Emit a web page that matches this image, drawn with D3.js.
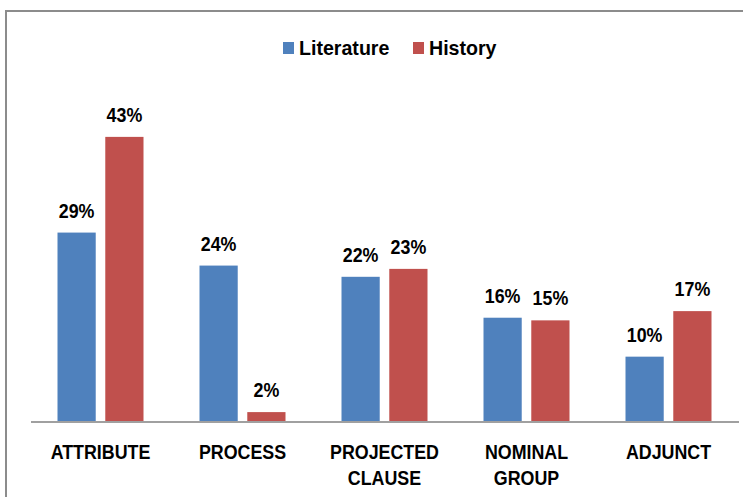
<!DOCTYPE html>
<html>
<head>
<script src="https://d3js.org/d3.v7.min.js"></script>
<style>
  body { margin: 0; background: #fff; }
  text { font-family: "Liberation Sans", Arial, sans-serif; font-weight: bold; fill: #000; }
</style>
</head>
<body>
<div id="chartDiv"></div>
<script>
// chart data
var categories = ["ATTRIBUTE", "PROCESS", "PROJECTED CLAUSE", "NOMINAL GROUP", "ADJUNCT"];
var categoryLines = [["ATTRIBUTE"], ["PROCESS"], ["PROJECTED", "CLAUSE"], ["NOMINAL", "GROUP"], ["ADJUNCT"]];
var series = ["Literature", "History"];
var literatureVals = [28.7, 23.7, 22.0, 15.8, 9.9];
var historyVals = [43.2, 1.5, 23.2, 15.4, 16.8];
var colors = ["#4f81bd", "#c0504d"];

var W = 743, H = 497;
var baseY = 422;
var squeeze = 0.85; // narrow the bold text, the original used a condensed face

var svg = d3.select("#chartDiv").append("svg")
  .attr("width", W)
  .attr("height", H);

// outer frame (runs off right and bottom edge)
svg.append("rect")
  .attr("x", 6).attr("y", 11)
  .attr("width", 800).attr("height", 600)
  .attr("fill", "none")
  .attr("stroke", "#8c8c8c")
  .attr("stroke-width", 2);

var x0 = d3.scaleBand()
  .domain(categories)
  .range([29.5, 739.5]);

var groupW = 86;
var x1 = d3.scaleBand()
  .domain(series)
  .range([0, groupW])
  .paddingInner(0.2);

var y = d3.scaleLinear()
  .domain([0, 50])
  .range([baseY, baseY - 330]);

var data = categories.map(function(c, i) {
  return { cat: c, vals: [literatureVals[i], historyVals[i]] };
});

var groups = svg.selectAll(".grp")
  .data(data)
  .enter().append("g")
  .attr("class", "grp")
  .attr("transform", function(d) {
    return "translate(" + (x0(d.cat) + (x0.bandwidth() - groupW) / 2) + ",0)";
  });

groups.selectAll("rect")
  .data(function(d) { return d.vals.map(function(v, j) { return { s: series[j], v: v, j: j }; }); })
  .enter().append("rect")
  .attr("x", function(d) { return x1(d.s); })
  .attr("y", function(d) { return y(d.v); })
  .attr("width", x1.bandwidth())
  .attr("height", function(d) { return baseY - y(d.v); })
  .attr("fill", function(d) { return colors[d.j]; });

// value labels
groups.selectAll(".val")
  .data(function(d) { return d.vals.map(function(v, j) { return { s: series[j], v: v }; }); })
  .enter().append("text")
  .attr("class", "val")
  .attr("transform", function(d) {
    return "translate(" + (x1(d.s) + x1.bandwidth() / 2) + "," + (y(d.v) - 15) + ") scale(" + squeeze + ",1)";
  })
  .attr("text-anchor", "middle")
  .style("font-size", "21px")
  .text(function(d) { return Math.round(d.v) + "%"; });

// baseline
svg.append("line")
  .attr("x1", 31).attr("x2", 739)
  .attr("y1", baseY).attr("y2", baseY)
  .attr("stroke", "#a0a0a0")
  .attr("stroke-width", 2);

// category labels
categories.forEach(function(c, i) {
  var t = svg.append("text")
    .attr("transform", "translate(" + (x0(c) + x0.bandwidth() / 2) + ",459) scale(" + squeeze + ",1)")
    .attr("text-anchor", "middle")
    .style("font-size", "21px");
  categoryLines[i].forEach(function(line, k) {
    t.append("tspan")
      .attr("x", 0)
      .attr("dy", k === 0 ? 0 : 26)
      .text(line);
  });
});

// legend
var legendX = [283, 413];
series.forEach(function(s, i) {
  svg.append("rect")
    .attr("x", legendX[i]).attr("y", 42)
    .attr("width", 11).attr("height", 12)
    .attr("fill", colors[i]);
  svg.append("text")
    .attr("transform", "translate(" + (legendX[i] + 16) + ",55) scale(0.98,1)")
    .style("font-size", "20px")
    .text(s);
});
</script>
</body>
</html>
